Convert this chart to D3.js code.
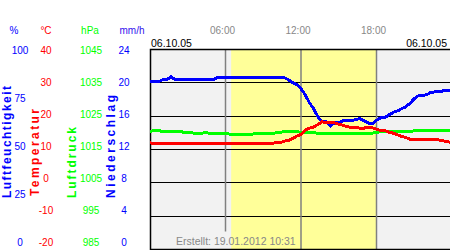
<!DOCTYPE html>
<html><head><meta charset="utf-8">
<script src="https://cdn.jsdelivr.net/npm/d3@7"></script>
<style>
html,body{margin:0;padding:0;background:#fff;}
svg{display:block;font-family:"Liberation Sans",Arial,sans-serif;}
</style></head>
<body>
<svg id="chart" width="450" height="250"></svg>
<script>
// ---- data (one value every 20 minutes, 00:00 .. 24:00) ----
const stepMinutes = 20;
const dateLabel = "06.10.05";
const createdLabel = "Erstellt: 19.01.2012 10:31";
const daylight = [6.45, 18.0];
const humidity = [83.8,83.8,83.8,84.9,84.9,86.3,84.9,84.9,84.9,84.9,
  84.9,84.9,84.9,84.9,84.9,84.9,85.9,85.9,85.9,85.9,
  85.9,85.9,85.9,85.9,85.9,85.9,85.9,85.9,85.9,85.9,
  85.9,85.9,85.9,84.9,83.4,82.4,80.4,77.4,73.4,70.4,
  66.5,63.8,63.8,61.8,63.3,63.3,64.3,64.6,64.6,64.8,
  65.6,64.3,63.3,62.8,64.6,65.8,66.1,67.3,68.6,69.3,
  70.4,71.4,73.1,75.4,76.9,77.1,77.4,78.6,78.8,78.8,
  79.4,79.4,79.2];
const temperature = [12.0,11.7,11.7,11.7,11.7,11.7,11.7,11.7,11.7,11.7,
  11.7,11.7,11.7,11.7,11.7,11.7,11.7,11.7,11.7,11.7,
  11.7,11.7,11.7,11.7,11.7,11.7,11.7,11.7,11.8,11.9,
  12.0,12.0,12.5,12.7,13.3,14.0,14.5,15.8,16.4,16.7,
  17.5,18.3,18.1,18.1,18.0,17.6,17.3,16.8,16.7,16.7,
  16.4,16.4,16.7,16.5,16.1,15.7,15.7,15.2,14.9,14.4,
  13.9,13.6,13.1,13.1,13.1,13.1,13.1,13.1,13.1,12.8,
  12.6,12.3,12.1];
const pressure = [1020.4,1020.7,1020.7,1020.4,1020.4,1020.4,1020.4,1020.4,1020.2,1020.1,
  1020.0,1019.7,1019.7,1020.1,1019.9,1019.9,1019.9,1019.9,1019.9,1019.6,
  1019.5,1019.5,1019.5,1019.5,1019.6,1019.7,1019.7,1019.7,1019.7,1019.7,
  1020.0,1020.2,1020.3,1020.3,1020.3,1020.3,1020.2,1020.1,1020.1,1020.0,
  1019.9,1019.8,1019.8,1019.8,1019.8,1019.8,1019.8,1019.8,1019.8,1019.8,
  1019.8,1019.8,1019.8,1019.9,1020.2,1020.3,1020.3,1020.3,1020.3,1020.3,
  1020.3,1020.3,1020.4,1020.6,1020.6,1020.6,1020.6,1020.6,1020.6,1020.6,
  1020.6,1020.6,1020.6];
const humidityTicks = [100, 75, 50, 25, 0];
const temperatureTicks = [40, 30, 20, 10, 0, -10, -20];
const pressureTicks = [1045, 1035, 1025, 1015, 1005, 995, 985];
const rainTicks = [24, 20, 16, 12, 8, 4, 0];
const timeTickHours = [6, 12, 18];
const timeTickLabels = ["06:00", "12:00", "18:00"];
const units = ["%", "°C", "hPa", "mm/h"];
const titles = ["Luftfeuchtigkeit", "Temperatur", "Luftdruck", "Niederschlag"];

// ---- layout ----
const svg = d3.select("#chart");
const L = 150, R = 452, T = 49.5, B = 249.5;
const x = d3.scaleLinear([0, 24], [L, R]);
const yHum = d3.scaleLinear([0, 100], [B, T]);
const yTemp = d3.scaleLinear([-20, 40], [B, T]);
const yPres = d3.scaleLinear([985, 1045], [B, T]);
const yRain = d3.scaleLinear([0, 24], [B, T]);
const BLUE = "#0000ff", RED = "#ff0000", GREEN = "#00ff00";
const font = "\"Liberation Sans\",Arial,sans-serif";

// background
svg.append("rect").attr("x", L).attr("y", T).attr("width", R - L).attr("height", B - T).attr("fill", "#f2f2f2");
svg.append("rect").attr("x", x(daylight[0])).attr("y", T).attr("width", x(daylight[1]) - x(daylight[0])).attr("height", B - T).attr("fill", "#ffff99");

// horizontal grid
const gridVals = rainTicks.filter(v => v > 0 && v < 24);
svg.append("g").selectAll("line").data(gridVals).join("line")
  .attr("x1", L).attr("x2", R)
  .attr("y1", d => Math.floor(yRain(d)) + 0.5).attr("y2", d => Math.floor(yRain(d)) + 0.5)
  .attr("stroke", "#000").attr("stroke-width", 1);

// footer (drawn early to measure)
const footer = svg.append("text").attr("x", 176).attr("y", 244.5)
  .attr("font-size", 10.5).attr("fill", "#888").attr("font-family", font).text(createdLabel);

// vertical time lines
const fb = footer.node().getBBox();
svg.append("g").selectAll("line").data(timeTickHours).join("line")
  .attr("x1", d => x(d)).attr("x2", d => x(d))
  .attr("y1", T)
  .attr("y2", d => (x(d) > fb.x && x(d) < fb.x + fb.width && x(d) < x(daylight[0])) ? fb.y - 3 : B)
  .attr("stroke", "#808080").attr("stroke-width", 1.5);

// border
svg.append("path").attr("d", `M${R},${T}H${L + 0.5}V${B}H${R}`)
  .attr("fill", "none").attr("stroke", "#000").attr("stroke-width", 1.5);

footer.raise();

// series
const tx = (d, i) => x(i * stepMinutes / 60);
svg.append("path").datum(humidity)
  .attr("d", d3.line().x(tx).y(d => yHum(d)))
  .attr("fill", "none").attr("stroke", BLUE).attr("stroke-width", 3).attr("shape-rendering", "crispEdges");
svg.append("path").datum(pressure)
  .attr("d", d3.line().x(tx).y(d => yPres(d)))
  .attr("fill", "none").attr("stroke", GREEN).attr("stroke-width", 3).attr("shape-rendering", "crispEdges");
svg.append("path").datum(temperature)
  .attr("d", d3.line().x(tx).y(d => yTemp(d)))
  .attr("fill", "none").attr("stroke", RED).attr("stroke-width", 3).attr("shape-rendering", "crispEdges");

// top labels
svg.append("g").selectAll("text").data(timeTickHours).join("text")
  .attr("x", d => x(d) - 3).attr("y", 30).attr("dy", "0.35em")
  .attr("text-anchor", "middle").attr("font-size", 10).attr("fill", "#888")
  .text((d, i) => timeTickLabels[i]);
svg.append("text").attr("x", 151).attr("y", 47).attr("font-size", 10.5).attr("fill", "#000").text(dateLabel);
svg.append("text").attr("x", 447).attr("y", 47).attr("text-anchor", "end").attr("font-size", 10.5).attr("fill", "#000").text(dateLabel);

// unit row
const unitX = [14, 46, 90, 132];
const unitColor = [BLUE, RED, GREEN, "#3311ee"];
svg.append("g").selectAll("text").data(units).join("text")
  .attr("x", (d, i) => unitX[i]).attr("y", 30).attr("dy", "0.35em")
  .attr("text-anchor", "middle").attr("font-size", 10).attr("fill", (d, i) => unitColor[i]).text(d => d);

// tick label columns
function column(vals, domain, cx, color) {
  const ls = d3.scaleLinear(domain, [242, 50.5]);
  svg.append("g").selectAll("text").data(vals).join("text")
    .attr("x", cx).attr("y", d => ls(d)).attr("dy", "0.35em")
    .attr("text-anchor", "middle").attr("font-size", 10).attr("fill", color).text(d => d);
}
column(humidityTicks, yHum.domain(), 20, BLUE);
column(temperatureTicks, yTemp.domain(), 46, RED);
column(pressureTicks, yPres.domain(), 91, GREEN);
column(rainTicks, yRain.domain(), 124, BLUE);

// rotated titles
const titleX = [10.5, 38.5, 75.5, 115];
const titleY = [198, 196, 198, 198];
const titleLen = [112, 87, 71, 103];
const titleColor = [BLUE, RED, GREEN, BLUE];
svg.append("g").selectAll("text").data(titles).join("text")
  .attr("transform", (d, i) => `translate(${titleX[i]},${titleY[i]}) rotate(-90)`)
  .attr("font-size", 12).attr("font-weight", "bold")
  .attr("textLength", (d, i) => titleLen[i]).attr("lengthAdjust", "spacing")
  .attr("fill", (d, i) => titleColor[i]).text(d => d);
</script>
</body></html>
